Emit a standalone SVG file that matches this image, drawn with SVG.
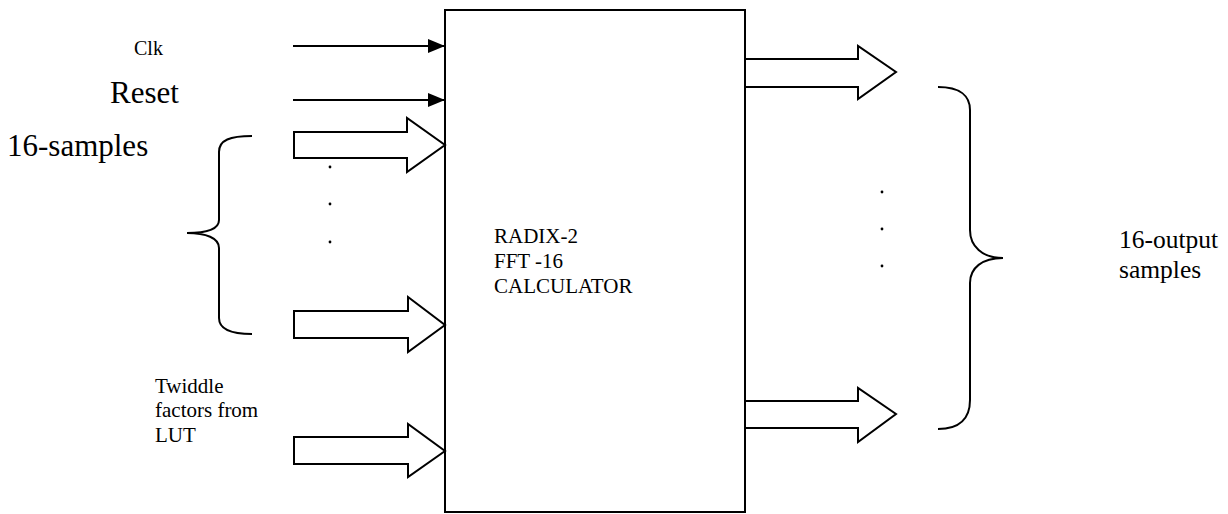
<svg xmlns="http://www.w3.org/2000/svg" width="1228" height="514" viewBox="0 0 1228 514">
<style>
  .ln{fill:none;stroke:#000;stroke-width:2}
  .blk{fill:#fff;stroke:#000;stroke-width:2;stroke-linejoin:miter}
  .t{font-family:"Liberation Serif","Times New Roman",serif;fill:#000}
</style>
<defs>
  <marker id="ah" viewBox="0 0 17 14" refX="17" refY="7" markerWidth="17" markerHeight="14" markerUnits="userSpaceOnUse" orient="auto">
    <path d="M0,0 L17,7 L0,14 Z" fill="#000"/>
  </marker>
</defs>
<rect width="1228" height="514" fill="#fff"/>

<g id="calculator">
  <rect class="ln" x="445" y="10" width="300" height="502"/>
  <text class="t" font-size="21" x="494" y="243">RADIX-2</text>
  <text class="t" font-size="21" x="494" y="268">FFT -16</text>
  <text class="t" font-size="21" x="494" y="293">CALCULATOR</text>
</g>

<g id="labels">
  <text class="t" font-size="20" x="134" y="55">Clk</text>
  <text class="t" font-size="31" x="110" y="103">Reset</text>
  <text class="t" font-size="31" x="7" y="156">16-samples</text>
  <text class="t" font-size="21" x="155" y="393">Twiddle</text>
  <text class="t" font-size="21" x="155" y="417">factors from</text>
  <text class="t" font-size="21" x="155" y="442">LUT</text>
  <text class="t" font-size="25.5" x="1119" y="248">16-output</text>
  <text class="t" font-size="25.5" x="1119" y="278">samples</text>
</g>

<g id="braces">
  <path class="ln" d="M252,136 C230,136 219,140 219,152 L219,220 C219,229 206,233 187,233 C206,233 219,238 219,248 L219,318 C219,329 230,334 252,334"/>
  <path class="ln" d="M938,87 C960,87 970,96 970,110 L970,230 C970,246 982,258 1003,258 C982,258 970,268 970,283 L970,400 C970,418 960,429 938,429"/>
</g>

<g id="dots" fill="#000">
  <circle cx="330" cy="167" r="1.4"/>
  <circle cx="330" cy="204" r="1.4"/>
  <circle cx="330" cy="242" r="1.4"/>
  <circle cx="882" cy="192" r="1.4"/>
  <circle cx="882" cy="229" r="1.4"/>
  <circle cx="882" cy="266" r="1.4"/>
</g>

<g id="connectors">
  <line class="ln" x1="293" y1="46" x2="445" y2="46" marker-end="url(#ah)"/>
  <line class="ln" x1="293" y1="100" x2="445" y2="100" marker-end="url(#ah)"/>
  <path class="blk" d="M294,132 L407,132 L407,118 L445,145 L407,172 L407,158 L294,158 Z"/>
  <path class="blk" d="M294,311 L408,311 L408,297 L445,325 L408,352 L408,338 L294,338 Z"/>
  <path class="blk" d="M294,437 L408,437 L408,424 L445,451 L408,477 L408,464 L294,464 Z"/>
  <path class="blk" d="M746,59 L858,59 L858,46 L896,72 L858,99 L858,87 L746,87"/>
  <path class="blk" d="M746,401 L858,401 L858,388 L896,414 L858,442 L858,428 L746,428"/>
</g>
</svg>
